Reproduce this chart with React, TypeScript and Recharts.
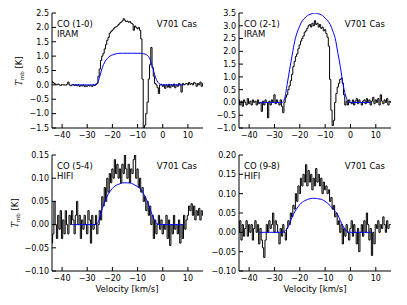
import { LineChart, Line, XAxis, YAxis } from "recharts";

// observed spectra, 0.5 km/s channels starting at -44 km/s
const co10 = [
  0.12, 0.08, 0.05, 0.02, 0.0, 0.03, 0.0, -0.02, 0.01, 0.0,
  0.0, -0.01, 0.02, 0.1, 0.0, -0.03, 0.0, 0.01, -0.02, 0.0,
  -0.03, 0.0, -0.05, -0.02, -0.04, 0.0, -0.06, -0.03, -0.05, -0.02,
  -0.04, -0.03, -0.05, 0.0, -0.02, 0.02, 0.05, 0.3, 0.55, 0.85,
  1.0, 1.1, 1.25, 1.4, 1.55, 1.65, 1.8, 1.85, 1.9, 1.95,
  2.0, 2.02, 2.05, 2.1, 2.15, 2.18, 2.22, 2.3, 2.25, 2.2,
  2.22, 2.18, 2.2, 2.15, 2.12, 1.9, 2.05, 2.0, 1.95, 2.0,
  1.9, 1.6, 0.2, -1.5, -1.4, -1.0, -0.6, 0.2, 0.7, 1.3,
  0.6, 0.3, 0.05, 0.0, -0.1, -0.3, 0.0, 0.02, -0.05, 0.0,
  -0.12, 0.0, -0.08, 0.02, -0.1, 0.0, -0.05, 0.03, -0.1, 0.0,
  -0.05, 0.05, 0.0, -0.25, 0.05, 0.0, 0.03, 0.05, 0.0, 0.08,
  0.02, 0.05, 0.0, 0.08, 0.05, -0.05, 0.05, 0.0, 0.1, -0.05,
  0.05,
];
const co21 = [
  0.1, -0.1, 0.05, -0.15, 0.1, 0.0, -0.1, 0.15, -0.05, 0.05,
  -0.1, 0.1, 0.0, 0.05, -0.1, 0.1, -0.05, 0.0, -0.35, 0.05,
  -0.1, 0.1, 0.0, -0.6, 0.05, -0.1, 0.1, 0.0, 0.3, -0.05,
  0.1, 0.0, -0.1, 0.1, -0.15, -0.4, 0.0, 0.2, 0.3, 0.5,
  0.65, 0.85, 1.1, 1.4, 1.6, 1.8, 1.9, 2.1, 2.25, 2.4,
  2.5, 2.6, 2.75, 2.8, 2.9, 3.0, 3.05, 2.95, 3.1, 3.0,
  3.2, 3.05, 3.1, 2.95, 3.05, 2.9, 2.95, 2.8, 2.85, 2.7,
  2.55, 2.2, 0.9, -0.3, -0.9, -0.7, 0.0, 0.35, 0.6, 0.75,
  0.9, 0.95, 0.75, 0.3, -0.1, 0.05, -0.1, 0.1, 0.0, -0.05,
  0.1, -0.1, 0.05, 0.15, -0.05, 0.1, 0.0, -0.1, 0.05, 0.1,
  -0.05, 0.15, 0.0, 0.1, -0.1, 0.05, 0.2, -0.05, 0.1, 0.0,
  0.15, -0.1, 0.3, 0.05, -0.05, 0.1, 0.0, 0.15, -0.1, 0.05,
  0.0,
];
const co54 = [
  -0.04, -0.02, 0.05, 0.0, -0.03, 0.02, -0.01, 0.03, -0.03, 0.01,
  -0.02, 0.03, 0.0, -0.02, 0.02, 0.0, 0.03, 0.01, -0.02, 0.02,
  0.05, 0.0, 0.02, -0.03, 0.01, -0.01, 0.02, 0.0, -0.02, 0.03,
  0.01, -0.04, 0.02, -0.01, 0.0, 0.02, -0.02, 0.0, 0.03, 0.01,
  0.06, 0.04, 0.08, 0.05, 0.1, 0.07, 0.11, 0.09, 0.12, 0.1,
  0.14, 0.11, 0.13, 0.1, 0.12, 0.09, 0.13, 0.11, 0.15, 0.12,
  0.1, 0.13, 0.09, 0.12, 0.11, 0.14, 0.15, 0.1, 0.12, 0.08,
  0.1, 0.07, 0.08, 0.05, 0.06, 0.03, 0.05, 0.02, 0.04, 0.0,
  0.02, -0.03, 0.01, -0.02, 0.0, 0.02, -0.01, 0.01, -0.02, 0.0,
  -0.01, 0.02, -0.03, 0.01, -0.045, 0.0, -0.02, 0.02, -0.01, 0.0,
  -0.02, 0.01, -0.04, 0.0, -0.03, 0.02, -0.01, 0.01, 0.02, 0.04,
  0.03, 0.045, 0.02, 0.04, 0.01, 0.03, 0.02, 0.035, 0.01, 0.03,
  0.02,
];
const co98 = [
  0.0, 0.03, -0.02, 0.02, -0.01, 0.01, 0.03, -0.01, 0.02, 0.0,
  0.02, -0.02, 0.01, 0.03, 0.0, 0.02, -0.03, 0.01, -0.02, -0.04,
  -0.065, -0.02, 0.02, 0.0, 0.03, 0.01, 0.02, 0.05, 0.0, 0.03,
  0.02, 0.0, -0.03, 0.01, -0.01, 0.02, 0.0, -0.02, 0.01, 0.03,
  0.02, 0.05, 0.04, 0.07, 0.06, 0.1, 0.08, 0.12, 0.1, 0.14,
  0.12, 0.15, 0.13, 0.175, 0.12, 0.16, 0.13, 0.15, 0.11, 0.14,
  0.12, 0.165, 0.13, 0.15, 0.12, 0.14, 0.1, 0.13, 0.11, 0.12,
  0.1, 0.11, 0.08, 0.09, 0.06, 0.07, 0.04, 0.05, 0.02, 0.03,
  0.0, 0.02, -0.03, 0.01, -0.01, 0.02, 0.0, -0.02, 0.01, 0.03,
  -0.01, 0.02, 0.0, -0.03, 0.01, -0.05, 0.0, 0.02, -0.01, 0.03,
  0.0, 0.05, 0.02, -0.02, 0.01, -0.06, 0.0, -0.03, 0.02, 0.01,
  0.03, 0.0, 0.02, 0.01, 0.04, 0.02, 0.0, 0.03, 0.01, 0.02,
  0.02,
];

// model fits, 1 km/s steps from -36 to 8 km/s
const co10Model = [
  0, 0, 0, 0, 0, 0, 0, 0, 0, 0,
  0.05, 0.3, 0.6, 0.8, 0.92, 1.0, 1.04, 1.07, 1.09, 1.1,
  1.1, 1.1, 1.1, 1.1, 1.1, 1.1, 1.1, 1.1, 1.09, 1.07,
  1.02, 0.88, 0.6, 0.3, 0.1, 0.02, 0, 0, 0, 0,
  0, 0, 0, 0, 0,
];
const co21Model = [
  0, 0, 0, 0, 0, 0, 0, 0, 0, 0,
  0.15, 0.7, 1.3, 1.85, 2.4, 2.75, 3.0, 3.2, 3.3, 3.4,
  3.45, 3.48, 3.5, 3.48, 3.45, 3.4, 3.3, 3.2, 3.05, 2.8,
  2.5, 1.95, 1.4, 0.75, 0.3, 0.05, 0, 0, 0, 0,
  0, 0, 0, 0, 0,
];
const co54Model = [
  0, 0, 0, 0, 0, 0, 0, 0, 0, 0,
  0.002, 0.015, 0.035, 0.05, 0.062, 0.071, 0.078, 0.083, 0.086, 0.088,
  0.09, 0.09, 0.09, 0.09, 0.088, 0.085, 0.082, 0.078, 0.07, 0.06,
  0.048, 0.033, 0.018, 0.007, 0.001, 0, 0, 0, 0, 0,
  0, 0, 0, 0, 0,
];
const co98Model = [
  0, 0, 0, 0, 0, 0, 0, 0, 0, 0,
  0.002, 0.01, 0.023, 0.04, 0.053, 0.063, 0.072, 0.078, 0.082, 0.085,
  0.087, 0.088, 0.088, 0.087, 0.086, 0.084, 0.08, 0.075, 0.069, 0.062,
  0.054, 0.045, 0.03, 0.017, 0.006, 0.001, 0, 0, 0, 0,
  0, 0, 0, 0, 0,
];

const velocityTicks = [-40, -30, -20, -10, 0, 10];
const ticks10 = [-1.5, -1.0, -0.5, 0.0, 0.5, 1.0, 1.5, 2.0, 2.5];
const ticks21 = [-1.0, -0.5, 0.0, 0.5, 1.0, 1.5, 2.0, 2.5, 3.0, 3.5];
const ticks54 = [-0.1, -0.05, 0.0, 0.05, 0.1, 0.15];
const ticks98 = [-0.1, -0.05, 0.0, 0.05, 0.1, 0.15, 0.2];

const toPoints = (vals: number[], start: number, step: number) =>
  vals.map((t, i) => ({ v: start + i * step, t }));

const FONT = "'DejaVu Sans', sans-serif";
const tickStyle = { fontSize: 8, fill: "#000", fontFamily: FONT };

type PanelProps = {
  left: number;
  top: number;
  w: number;
  h: number;
  yTicks: number[];
  decimals: number;
  spectrum: number[];
  model: number[];
  line: string;
  telescope: string;
};

function Panel({ left, top, w, h, yTicks, decimals, spectrum, model, line, telescope }: PanelProps) {
  const fmt = (n: number) => (n < -1e-9 ? "\u2212" : "") + Math.abs(n).toFixed(decimals);
  const yDomain = [yTicks[0], yTicks[yTicks.length - 1]];
  const obs = toPoints(spectrum, -44, 0.5);
  const fit = toPoints(model, -36, 1);
  return (
    <>
      <div style={{ position: "absolute", left: left - 40, top: top - 5 }}>
        <LineChart width={40 + w + 5} height={5 + h + 20} margin={{ top: 5, right: 5, left: 0, bottom: 0 }}>
          <XAxis xAxisId="b" dataKey="v" type="number" domain={[-44, 16]} ticks={velocityTicks} interval={0}
            allowDataOverflow tickSize={-4} tickMargin={8} height={20} stroke="#000"
            tick={tickStyle} tickFormatter={fmtV} />
          <XAxis xAxisId="t" orientation="top" dataKey="v" type="number" domain={[-44, 16]} ticks={velocityTicks}
            interval={0} allowDataOverflow tickSize={-4} height={0} stroke="#000" tick={false} />
          <YAxis yAxisId="l" type="number" domain={yDomain} ticks={yTicks} interval={0} allowDataOverflow
            tickSize={-4} tickMargin={7} width={40} stroke="#000" tick={tickStyle} tickFormatter={fmt} />
          <YAxis yAxisId="r" orientation="right" type="number" domain={yDomain} ticks={yTicks} interval={0}
            allowDataOverflow tickSize={-4} width={0} stroke="#000" tick={false} />
          <Line xAxisId="b" yAxisId="l" data={obs} dataKey="t" type="step" stroke="#000" strokeWidth={1}
            dot={false} isAnimationActive={false} />
          <Line xAxisId="b" yAxisId="l" data={fit} dataKey="t" type="monotone" stroke="#0000ff" strokeWidth={1}
            dot={false} isAnimationActive={false} />
        </LineChart>
      </div>
      <div style={{ position: "absolute", left: left + 5, top: top + 5.5, fontSize: 8.5, lineHeight: "10px" }}>
        {line}
        <br />
        {telescope}
      </div>
      <div style={{ position: "absolute", right: 407 - (left + w - 6), top: top + 5.5, fontSize: 8.5, lineHeight: "10px" }}>
        V701 Cas
      </div>
    </>
  );
}

const fmtV = (n: number) => (n < 0 ? "\u2212" : "") + Math.abs(n);

function YLabel({ x, y }: { x: number; y: number }) {
  return (
    <div style={{ position: "absolute", left: x, top: y, transform: "translate(-50%, -50%) rotate(-90deg)",
      whiteSpace: "nowrap", fontSize: 8.5 }}>
      <i style={{ fontFamily: "'DejaVu Serif', serif" }}>T</i>
      <span style={{ fontSize: 5.5, position: "relative", top: 2 }}>mb</span> [K]
    </div>
  );
}

export default function App() {
  return (
    <div style={{ position: "absolute", left: 0, top: 0, width: 407, height: 305, background: "#fff",
      fontFamily: FONT, color: "#000", overflow: "hidden" }}>
      <Panel left={52} top={13} w={151} h={115} yTicks={ticks10} decimals={1}
        spectrum={co10} model={co10Model} line="CO (1-0)" telescope="IRAM" />
      <Panel left={239} top={13} w={152} h={115} yTicks={ticks21} decimals={1}
        spectrum={co21} model={co21Model} line="CO (2-1)" telescope="IRAM" />
      <Panel left={52} top={155} w={151} h={116} yTicks={ticks54} decimals={2}
        spectrum={co54} model={co54Model} line="CO (5-4)" telescope="HIFI" />
      <Panel left={239} top={155} w={152} h={116} yTicks={ticks98} decimals={2}
        spectrum={co98} model={co98Model} line="CO (9-8)" telescope="HIFI" />
      <YLabel x={19} y={71} />
      <YLabel x={15} y={213} />
      <div style={{ position: "absolute", left: 127, top: 289, transform: "translate(-50%, -50%)", fontSize: 8.5, whiteSpace: "nowrap" }}>
        Velocity [km/s]
      </div>
      <div style={{ position: "absolute", left: 315, top: 289, transform: "translate(-50%, -50%)", fontSize: 8.5, whiteSpace: "nowrap" }}>
        Velocity [km/s]
      </div>
    </div>
  );
}
